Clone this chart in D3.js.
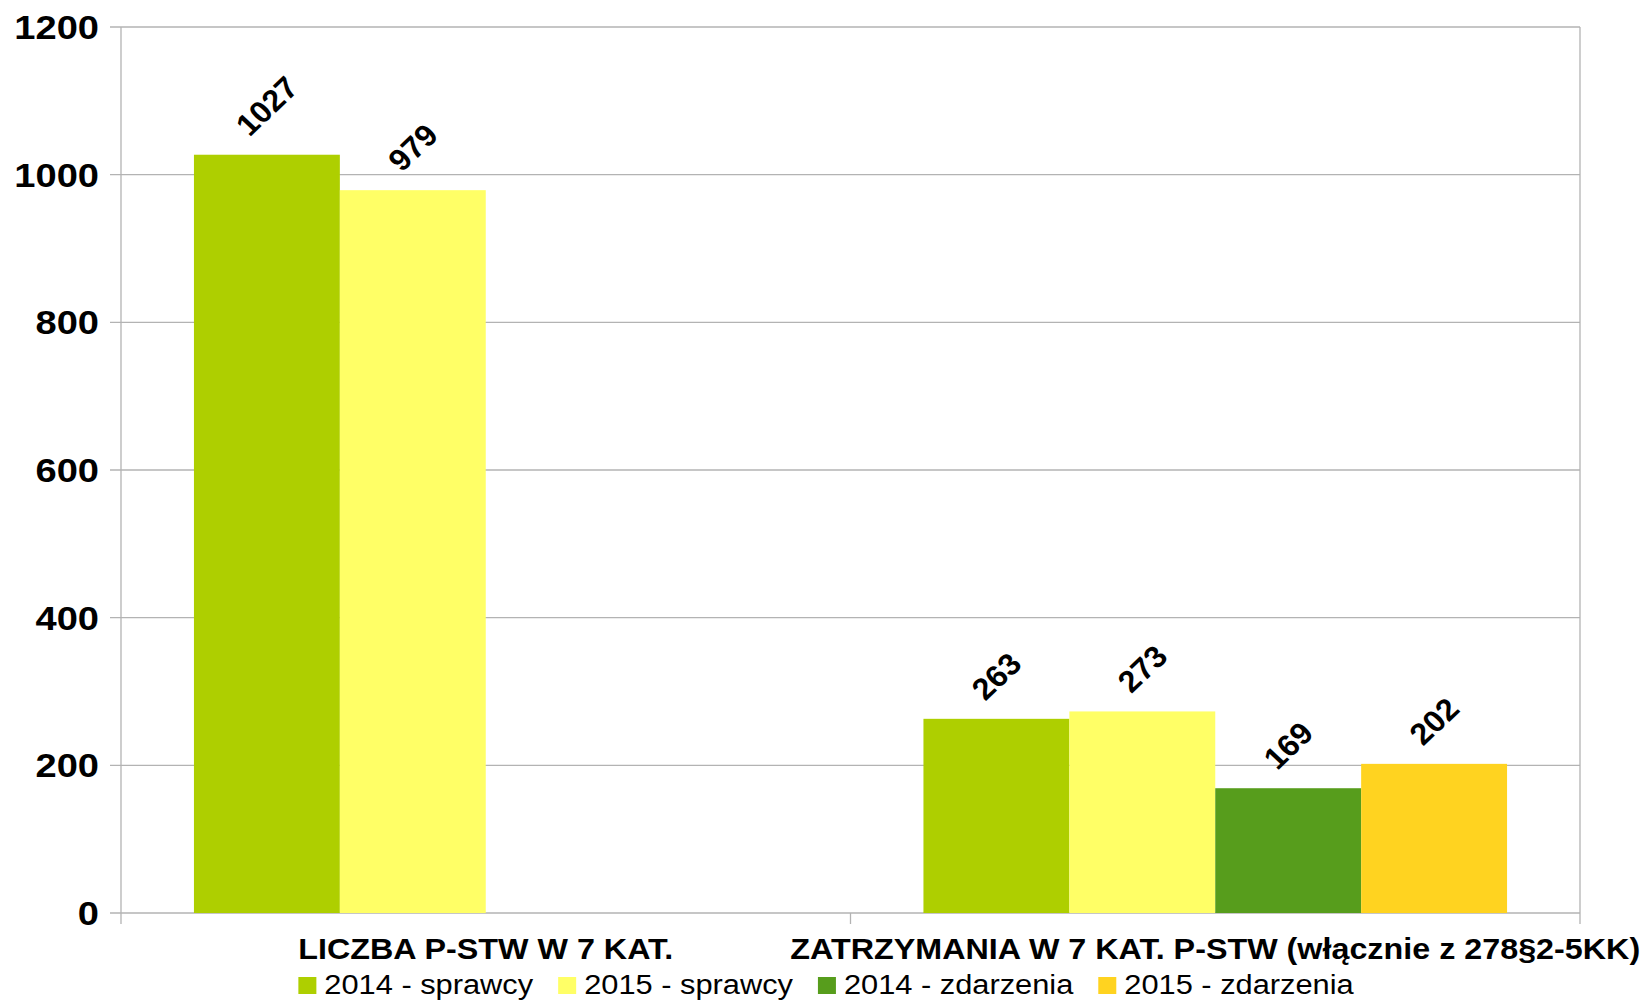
<!DOCTYPE html>
<html>
<head>
  <meta charset="utf-8">
  <title>P-STW 2014/2015</title>
  <script src="https://d3js.org/d3.v7.min.js"></script>
  <style>
    body { margin: 0; background: #fff; }
    svg text { font-family: "Liberation Sans", Arial, sans-serif; fill: #000; }
    .grid line { stroke: #b3b3b3; stroke-width: 1.3px; }
    .frame line { stroke: #b3b3b3; stroke-width: 1.3px; }
  </style>
</head>
<body>
  <script>
    // data
    var categories = ["LICZBA P-STW W 7 KAT.", "ZATRZYMANIA W 7 KAT. P-STW (włącznie z 278§2-5KK)"];
    var seriesNames = ["2014 - sprawcy", "2015 - sprawcy", "2014 - zdarzenia", "2015 - zdarzenia"];
    var seriesColors = ["#aecf00", "#ffff66", "#579d1c", "#ffd320"];
    var sprawcy2014 = [1027, 263];
    var sprawcy2015 = [979, 273];
    var zdarzenia2014 = [null, 169];
    var zdarzenia2015 = [null, 202];
    var yTicks = [0, 200, 400, 600, 800, 1000, 1200];

    var seriesValues = [sprawcy2014, sprawcy2015, zdarzenia2014, zdarzenia2015];

    var W = 1644, H = 1002;
    var plotLeft = 121, plotRight = 1580, plotTop = 27, plotBottom = 913;

    var svg = d3.select("body").append("svg")
        .attr("width", W)
        .attr("height", H);

    var x0 = d3.scaleBand().domain(categories).range([plotLeft, plotRight]).padding(0);
    var x1 = d3.scaleBand().domain(seriesNames).range([0, x0.bandwidth()])
        .paddingInner(0).paddingOuter(0.5);
    var y = d3.scaleLinear().domain([0, 1200]).range([plotBottom, plotTop]);

    // gridlines
    svg.append("g").attr("class", "grid")
      .selectAll("line").data(yTicks).enter().append("line")
        .attr("x1", plotLeft - 11).attr("x2", plotRight)
        .attr("y1", d => y(d)).attr("y2", d => y(d));

    // frame: left axis, right wall, category ticks
    var frame = svg.append("g").attr("class", "frame");
    frame.append("line").attr("x1", plotLeft).attr("x2", plotLeft).attr("y1", plotTop).attr("y2", plotBottom + 11);
    frame.append("line").attr("x1", plotRight).attr("x2", plotRight).attr("y1", plotTop).attr("y2", plotBottom + 11);
    frame.append("line").attr("x1", x0(categories[1])).attr("x2", x0(categories[1]))
        .attr("y1", plotBottom).attr("y2", plotBottom + 11);

    // bars
    var rows = [];
    categories.forEach(function(c, ci) {
        seriesNames.forEach(function(s, si) {
            var v = seriesValues[si][ci];
            if (v != null) rows.push({cat: c, series: s, color: seriesColors[si], value: v});
        });
    });

    svg.append("g").selectAll("rect").data(rows).enter().append("rect")
        .attr("x", d => x0(d.cat) + x1(d.series))
        .attr("y", d => y(d.value))
        .attr("width", x1.bandwidth())
        .attr("height", d => y(0) - y(d.value))
        .attr("fill", d => d.color);

    // value labels, rotated
    var lblSize = 30.5;
    svg.append("g").selectAll("text").data(rows).enter().append("text")
        .attr("text-anchor", "middle")
        .attr("dy", "0.35em")
        .style("font-size", lblSize + "px")
        .style("font-weight", "bold")
        .text(d => d.value)
        .attr("transform", function(d) {
            var L = this.getComputedTextLength();
            var half = (L + 0.716 * lblSize) / (2 * Math.SQRT2);
            var cx = x0(d.cat) + x1(d.series) + x1.bandwidth() / 2;
            var cy = y(d.value) - 17 - half;
            return "translate(" + cx + "," + cy + ") scale(1.06,1) rotate(-45)";
        });

    // y tick labels
    svg.append("g").selectAll("text").data(yTicks).enter().append("text")
        .attr("text-anchor", "end")
        .attr("dy", "0.35em")
        .style("font-size", "34px")
        .style("font-weight", "bold")
        .attr("transform", d => "translate(99," + y(d) + ") scale(1.12,1)")
        .text(d => d);

    // category labels
    svg.append("g").selectAll("text").data(categories).enter().append("text")
        .attr("text-anchor", "middle")
        .style("font-size", "29.5px")
        .style("font-weight", "bold")
        .attr("transform", d => "translate(" + (x0(d) + x0.bandwidth() / 2) + ",959) scale(1.095,1)")
        .text(d => d);

    // legend
    var legStretch = 1.1;
    var legend = svg.append("g");
    var items = legend.selectAll("g").data(seriesNames).enter().append("g");
    items.append("rect")
        .attr("x", 0).attr("y", -17)
        .attr("width", 18).attr("height", 17)
        .attr("fill", (d, i) => seriesColors[i]);
    var texts = items.append("text")
        .attr("transform", "translate(26,0) scale(" + legStretch + ",1)")
        .style("font-size", "28px")
        .text(d => d);

    var pos = 0, offsets = [];
    texts.each(function() {
        offsets.push(pos);
        pos += 26 + this.getComputedTextLength() * legStretch + 25;
    });
    var total = pos - 25;
    var start = 826 - total / 2;
    items.attr("transform", (d, i) => "translate(" + (start + offsets[i]) + ",994)");
  </script>
</body>
</html>
